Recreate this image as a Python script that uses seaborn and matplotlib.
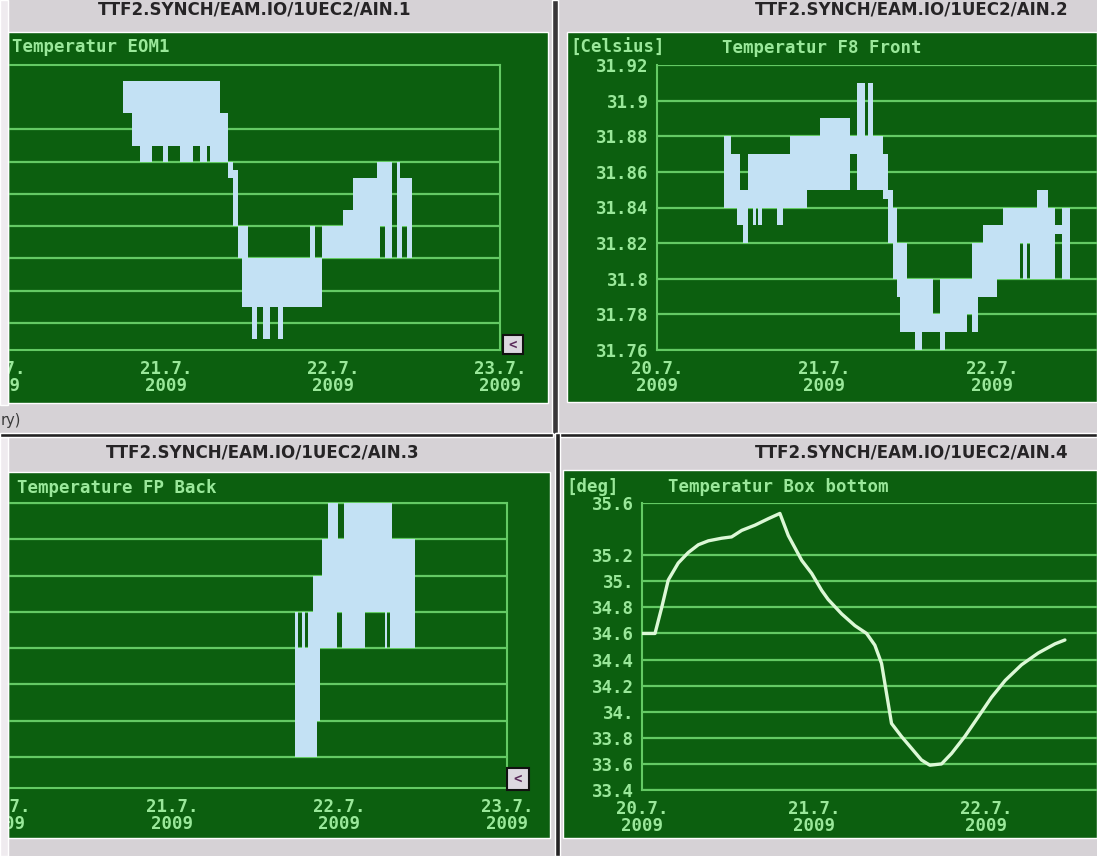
import numpy as np
import matplotlib
matplotlib.use("Agg")
import matplotlib.pyplot as plt
from matplotlib.patches import Rectangle
from matplotlib.ticker import MultipleLocator, FixedLocator, NullFormatter
import seaborn as sns

# ---------------------------------------------------------------------------
# Data (time axis: days after 20.7.2009 00:00)
# ---------------------------------------------------------------------------
DAY_TICKS = [0, 1, 2, 3]
DAY_LABELS = ["20.7.\n2009", "21.7.\n2009", "22.7.\n2009", "23.7.\n2009"]

# AIN.1  Temperatur EOM1 -- min/max envelope, one row per interval start
EOM1_T = [0.743, 0.796, 0.844, 0.914, 0.984, 1.014, 1.084, 1.164, 1.204, 1.244,
          1.263, 1.323, 1.371, 1.401, 1.431, 1.455, 1.491, 1.513, 1.543, 1.581,
          1.623, 1.671, 1.701, 1.862, 1.892, 1.934, 2.060, 2.120, 2.263, 2.281,
          2.311, 2.353, 2.383, 2.401, 2.413, 2.443]
EOM1_LO = [31.77, 31.75, 31.74, 31.75, 31.74, 31.75, 31.74, 31.75, 31.74, 31.75,
           31.74, 31.74, 31.73, 31.70, 31.68, 31.65, 31.65, 31.63, 31.65, 31.63,
           31.65, 31.63, 31.65, 31.65, 31.65, 31.68, 31.68, 31.68, 31.68, 31.70,
           31.68, 31.68, 31.68, 31.68, 31.70, 31.68]
EOM1_HI = [31.79, 31.79, 31.79, 31.79, 31.79, 31.79, 31.79, 31.79, 31.79, 31.79,
           31.79, 31.77, 31.74, 31.735, 31.70, 31.70, 31.68, 31.68, 31.68, 31.68,
           31.68, 31.68, 31.68, 31.70, 31.68, 31.70, 31.71, 31.73, 31.74, 31.74,
           31.74, 31.68, 31.74, 31.73, 31.73, 31.73]
EOM1_END = 2.473
EOM1_GRID = [31.64, 31.66, 31.68, 31.70, 31.72, 31.74, 31.76]

# AIN.2  Temperatur F8 Front [Celsius]
F8_T = [0.400, 0.442, 0.475, 0.496, 0.516, 0.546, 0.575, 0.590, 0.605, 0.625,
        0.715, 0.754, 0.794, 0.894, 0.973, 1.152, 1.192, 1.242, 1.262, 1.291,
        1.351, 1.381, 1.411, 1.431, 1.451, 1.491, 1.540, 1.580, 1.650, 1.690,
        1.719, 1.849, 1.879, 1.918, 1.948, 2.028, 2.068, 2.167, 2.187, 2.207,
        2.227, 2.267, 2.336, 2.376, 2.416]
F8_LO = [31.84, 31.84, 31.83, 31.83, 31.82, 31.84, 31.83, 31.84, 31.83, 31.84,
         31.83, 31.84, 31.84, 31.85, 31.85, 31.87, 31.85, 31.85, 31.85, 31.85,
         31.845, 31.82, 31.80, 31.79, 31.77, 31.77, 31.76, 31.77, 31.77, 31.76,
         31.77, 31.78, 31.77, 31.79, 31.79, 31.80, 31.80, 31.82, 31.80, 31.82,
         31.80, 31.80, 31.80, 31.825, 31.80]
F8_HI = [31.88, 31.87, 31.87, 31.85, 31.85, 31.87, 31.87, 31.87, 31.87, 31.87,
         31.87, 31.87, 31.88, 31.88, 31.89, 31.88, 31.91, 31.88, 31.91, 31.88,
         31.87, 31.85, 31.84, 31.82, 31.82, 31.80, 31.80, 31.80, 31.78, 31.80,
         31.80, 31.80, 31.82, 31.82, 31.83, 31.83, 31.84, 31.84, 31.84, 31.84,
         31.84, 31.85, 31.84, 31.83, 31.84]
F8_END = 2.466
F8_TICKS = [31.76, 31.78, 31.80, 31.82, 31.84, 31.86, 31.88, 31.90, 31.92]
F8_TICK_LABELS = ["31.76", "31.78", "31.8", "31.82", "31.84", "31.86", "31.88",
                  "31.9", "31.92"]

# AIN.3  Temperature FP Back
FPB_T = [1.734, 1.754, 1.774, 1.794, 1.814, 1.844, 1.864, 1.884, 1.894, 1.933,
         1.983, 1.993, 2.013, 2.025, 2.152, 2.272, 2.282, 2.301, 2.312]
FPB_LO = [30.9, 30.9, 30.9, 30.9, 30.9, 30.9, 31.0, 31.2, 31.2, 31.2,
          31.3, 31.3, 31.2, 31.2, 31.3, 31.2, 31.3, 31.2, 31.2]
FPB_HI = [31.3, 31.2, 31.3, 31.2, 31.3, 31.4, 31.4, 31.4, 31.5, 31.6,
          31.6, 31.5, 31.5, 31.6, 31.6, 31.6, 31.6, 31.6, 31.5]
FPB_END = 2.451
FPB_GRID = [30.9, 31.0, 31.1, 31.2, 31.3, 31.4, 31.5, 31.6]

# AIN.4  Temperatur Box bottom [deg]
BOX_T = [0.000, 0.074, 0.113, 0.151, 0.209, 0.267, 0.326, 0.384, 0.461, 0.519,
         0.578, 0.655, 0.733, 0.800, 0.849, 0.927, 0.985, 1.043, 1.081, 1.159,
         1.236, 1.304, 1.352, 1.391, 1.420, 1.449, 1.507, 1.565, 1.623, 1.672,
         1.740, 1.798, 1.875, 1.953, 2.030, 2.110, 2.205, 2.302, 2.399, 2.457]
BOX_V = [34.60, 34.60, 34.80, 35.01, 35.14, 35.22, 35.28, 35.31, 35.33, 35.34,
         35.39, 35.43, 35.48, 35.52, 35.35, 35.16, 35.06, 34.93, 34.86, 34.75,
         34.66, 34.60, 34.51, 34.37, 34.14, 33.91, 33.81, 33.72, 33.63, 33.59,
         33.60, 33.68, 33.81, 33.96, 34.11, 34.24, 34.36, 34.45, 34.52, 34.55]
BOX_TICKS = [33.4, 33.6, 33.8, 34.0, 34.2, 34.4, 34.6, 34.8, 35.0, 35.2, 35.6]
BOX_TICK_LABELS = ["33.4", "33.6", "33.8", "34.", "34.2", "34.4", "34.6",
                   "34.8", "35.", "35.2", "35.6"]

CHANNEL = "TTF2.SYNCH/EAM.IO/1UEC2/AIN.{}"

# ---------------------------------------------------------------------------
# Style
# ---------------------------------------------------------------------------
GREEN = "#0c5f0f"
GRID = "#64ca64"
TEXT = "#9ae89a"
BAND = "#c3e1f4"
LINE = "#dcf8d6"
CHROME = "#d6d2d6"
LIGHT = "#efebef"
DARK = "#232223"

sns.set_theme(style="dark")
plt.rcParams["font.family"] = ["DejaVu Sans Mono", "DejaVu Sans"]
plt.rcParams["font.weight"] = "bold"
plt.rcParams["axes.unicode_minus"] = False

W, H, DPI = 1097, 856, 100
fig = plt.figure(figsize=(W / DPI, H / DPI), dpi=DPI)
fig.patch.set_facecolor(CHROME)

MONO = dict(family="DejaVu Sans Mono", weight="bold")


def fig_rect(x0, y0, x1, y1, color, z=-1, **kw):
    fig.add_artist(Rectangle((x0 / W, 1 - y1 / H), (x1 - x0) / W, (y1 - y0) / H,
                             transform=fig.transFigure, facecolor=color,
                             zorder=z, **kw))


def fig_text(x, y, s, **kw):
    fig.text(x / W, 1 - y / H, s, **kw)


def panel_axes(x0, y0, x1, y1):
    ax = fig.add_axes([x0 / W, 1 - y1 / H, (x1 - x0) / W, (y1 - y0) / H])
    ax.set_facecolor("none")
    return ax


def style_axes(ax, ylim, yticks, ylabels=None, framed=False, yminor=None,
               ndays=4):
    ax.set_xlim(0, 3)
    ax.set_ylim(*ylim)
    for sp in ax.spines.values():
        sp.set_color(GRID)
        sp.set_linewidth(1.5)
    ax.spines["top"].set_visible(framed)
    ax.spines["right"].set_visible(framed)
    ax.spines["left"].set_visible(not framed)

    ax.set_xticks(DAY_TICKS[:ndays], labels=DAY_LABELS[:ndays],
                  linespacing=0.95, fontweight="bold",
                  fontfamily="DejaVu Sans Mono")
    ax.xaxis.set_minor_locator(MultipleLocator(1 / 48))
    ax.tick_params(axis="x", which="major", direction="inout", length=13,
                   width=1.3, color=GRID, labelcolor=TEXT, labelsize=12.5,
                   pad=0.5)
    ax.tick_params(axis="x", which="minor", direction="in", length=4.5,
                   width=1.0, color=GRID)

    if ylabels is None:
        ax.set_yticks(yticks)
        ax.yaxis.set_major_formatter(NullFormatter())
    else:
        ax.set_yticks(yticks, labels=ylabels, fontweight="bold",
                      fontfamily="DejaVu Sans Mono")
    if yminor is not None:
        ax.yaxis.set_minor_locator(FixedLocator(yminor))
    ax.tick_params(axis="y", which="major", direction="out", length=5,
                   width=1.3, color=GRID, labelcolor=TEXT, labelsize=12.5,
                   pad=1)
    ax.tick_params(axis="y", which="minor", direction="in", length=4,
                   width=1.0, color=GRID)
    ax.grid(False)
    ax.yaxis.grid(True, which="major", color=GRID, linewidth=1.6)
    ax.set_axisbelow(True)
    ax.set_xlabel("")
    ax.set_ylabel("")


def envelope(ax, t, lo, hi, end):
    tt = np.append(np.asarray(t, float), end)
    ll = np.append(np.asarray(lo, float), lo[-1])
    hh = np.append(np.asarray(hi, float), hi[-1])
    ax.fill_between(tt, ll, hh, step="post", color=BAND, linewidth=0,
                    zorder=3)


# ---------------------------------------------------------------------------
# Window chrome
# ---------------------------------------------------------------------------
fig_rect(8, 32, 548, 403, GREEN)          # AIN.1 canvas
fig_rect(567, 32, 1097, 402, GREEN)       # AIN.2 canvas
fig_rect(8, 472, 550, 838, GREEN)         # AIN.3 canvas
fig_rect(563, 470, 1097, 838, GREEN)      # AIN.4 canvas

fig_rect(0, 0, 8, 405, LIGHT, z=5)
fig_rect(0, 437, 8, 856, LIGHT, z=5)
fig_rect(552, 0, 558, 434, "#3a383a", z=5)
fig_rect(0, 433, 553, 437, DARK, z=5)
fig_rect(556, 433, 1097, 437, DARK, z=5)
fig_rect(555, 433, 560, 856, DARK, z=5)

for cx, cy, n in [(255, 10, 1), (912, 10, 2), (263, 453, 3), (912, 453, 4)]:
    fig_text(cx, cy, CHANNEL.format(n), ha="center", va="center",
             fontsize=12, fontweight="bold", family="DejaVu Sans",
             color="#262426", zorder=6)

fig_text(1, 420, "ry)", ha="left", va="center", fontsize=10.5,
         family="DejaVu Sans", fontweight="normal", color="#3a3a3a",
         zorder=6)

# scroll buttons
for x0, y0, x1, y1 in [(503, 335, 523, 354), (507, 768, 529, 790)]:
    fig_rect(x0, y0, x1, y1, "#dcd8e0", z=4, edgecolor="#111111",
             linewidth=1.5)
    fig_text((x0 + x1) / 2, (y0 + y1) / 2, "<", ha="center", va="center",
             fontsize=10, fontweight="bold", color="#5a2a5a", zorder=6)

# ---------------------------------------------------------------------------
# AIN.1  (top left)
# ---------------------------------------------------------------------------
ax1 = panel_axes(-1, 65, 500, 350)
style_axes(ax1, (31.6232, 31.80), EOM1_GRID, framed=True)
envelope(ax1, EOM1_T, EOM1_LO, EOM1_HI, EOM1_END)
fig_text(12, 47, "Temperatur EOM1", ha="left", va="center", fontsize=12.5,
         color=TEXT, **MONO)

# ---------------------------------------------------------------------------
# AIN.2  (top right)
# ---------------------------------------------------------------------------
ax2 = panel_axes(657, 65, 657 + 3 * 167.5, 350)
style_axes(ax2, (31.76, 31.92), F8_TICKS, F8_TICK_LABELS,
           yminor=np.arange(31.77, 31.92, 0.02), ndays=3)
envelope(ax2, F8_T, F8_LO, F8_HI, F8_END)
fig_text(570, 48, "[Celsius]", ha="left", va="center", fontsize=12.5,
         color=TEXT, **MONO)
fig_text(722, 48, "Temperatur F8 Front", ha="left", va="center",
         fontsize=12.5, color=TEXT, **MONO)

# ---------------------------------------------------------------------------
# AIN.3  (bottom left)
# ---------------------------------------------------------------------------
ax3 = panel_axes(4.5, 503, 507, 788)
style_axes(ax3, (30.8146, 31.6), FPB_GRID, framed=True)
envelope(ax3, FPB_T, FPB_LO, FPB_HI, FPB_END)
fig_text(17, 488, "Temperature FP Back", ha="left", va="center",
         fontsize=12.5, color=TEXT, **MONO)

# ---------------------------------------------------------------------------
# AIN.4  (bottom right)
# ---------------------------------------------------------------------------
ax4 = panel_axes(642.3, 503, 642.3 + 3 * 172, 790)
style_axes(ax4, (33.4, 35.6), BOX_TICKS, BOX_TICK_LABELS, yminor=[35.4],
           ndays=3)
sns.lineplot(x=BOX_T, y=BOX_V, ax=ax4, color=LINE, linewidth=2.4,
             estimator=None, zorder=3)
ax4.set_xlabel("")
ax4.set_ylabel("")
fig_text(566, 487, "[deg]", ha="left", va="center", fontsize=12.5,
         color=TEXT, **MONO)
fig_text(668, 487, "Temperatur Box bottom", ha="left", va="center",
         fontsize=12.5, color=TEXT, **MONO)

fig.savefig("out.png", dpi=DPI, facecolor=fig.get_facecolor())
